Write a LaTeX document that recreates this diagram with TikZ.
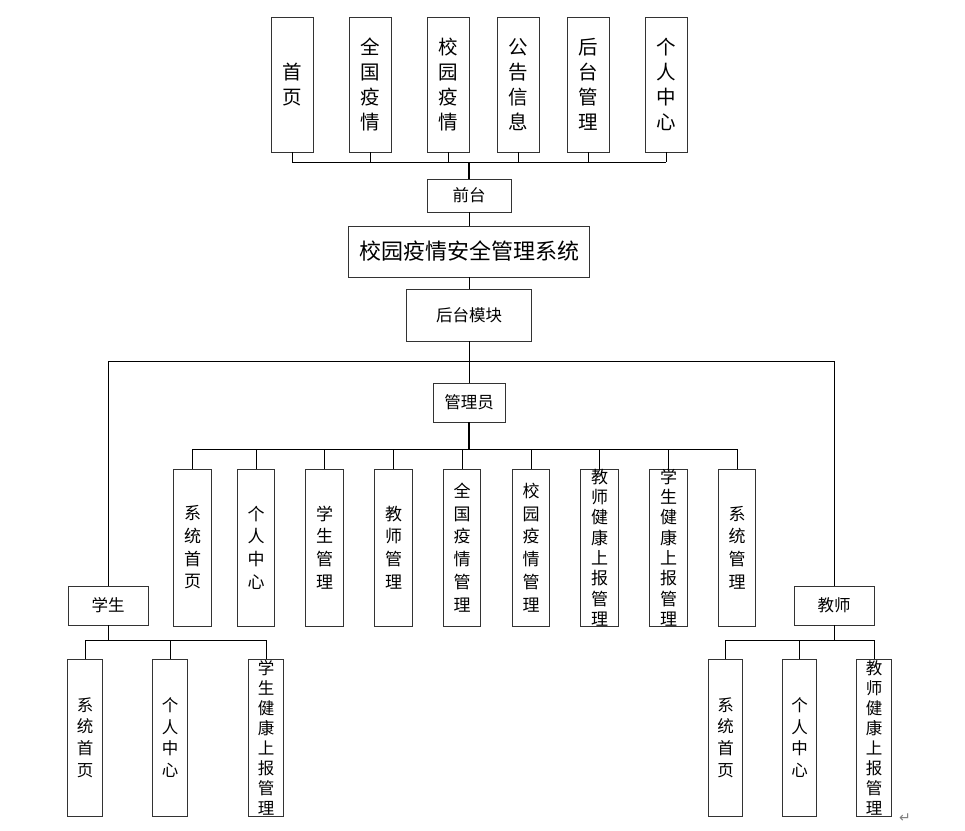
\documentclass[tikz,border=0pt]{standalone}
\usepackage{fontspec}
\setmainfont{Noto Sans CJK SC}
\newfontfamily\symfont{DejaVu Sans}

\begin{document}
\begin{tikzpicture}[x=1pt,y=-1pt,
    box/.style={draw=black!80, line width=0.9pt, inner sep=0pt},
    pagebox/.style={box, minimum width=42pt, minimum height=135pt},
    funcbox/.style={box, minimum width=37.5pt, minimum height=157pt},
    userbox/.style={box, minimum width=34.5pt, minimum height=157pt},
    tagbox/.style={box, font=\fontsize{16.5}{20}\selectfont},
    vtext/.style={align=center, inner sep=0pt},
    link/.style={line width=0.9pt},
    stem/.style={line width=1.9pt}]

  \useasboundingbox (0,0) rectangle (965,830);

  % front pages, one column of characters each
  \foreach \n/\x/\lbl in {t1/292/首\\页, t2/370/全\\国\\疫\\情,
      t3/448/校\\园\\疫\\情, t4/518/公\\告\\信\\息,
      t5/588/后\\台\\管\\理, t6/666/个\\人\\中\\心}{
    \node[pagebox] (\n) at (\x,84.5) {};
    \node[vtext, font=\fontsize{19.5}{25}\selectfont] (\n-txt) at (\n) {\lbl};
  }

  % middle column
  \node[tagbox, minimum width=84pt, minimum height=33pt] (front) at (469,195.5) {前台};
  \node[box, minimum width=241pt, minimum height=51pt,
        font=\fontsize{22}{26}\selectfont] (sys) at (469,251.5) {校园疫情安全管理系统};
  \node[tagbox, minimum width=125pt, minimum height=52pt] (back) at (469,315) {后台模块};
  \node[tagbox, minimum width=72pt, minimum height=39pt] (admin) at (469,402.5) {管理员};
  \node[tagbox, minimum width=80pt, minimum height=39pt] (stu) at (108,605.5) {学生};
  \node[tagbox, minimum width=80pt, minimum height=39pt] (tea) at (834,605.5) {教师};

  % admin functions
  \foreach \n/\x/\s/\lbl in {m1/192.5/22.7/系\\统\\首\\页, m2/256/22.7/个\\人\\中\\心,
      m3/324.5/22.7/学\\生\\管\\理, m4/393.5/22.7/教\\师\\管\\理,
      m5/462/22.7/全\\国\\疫\\情\\管\\理, m6/531/22.7/校\\园\\疫\\情\\管\\理,
      m7/599.5/20.3/教\\师\\健\\康\\上\\报\\管\\理,
      m8/668.5/20.3/学\\生\\健\\康\\上\\报\\管\\理, m9/737/22.7/系\\统\\管\\理}{
    \node[funcbox] (\n) at (\x,547.5) {};
    \node[vtext, font=\fontsize{17}{\s}\selectfont] (\n-txt) at (\n) {\lbl};
  }

  % student and teacher functions
  \foreach \n/\x/\s/\lbl in {s1/85/21.7/系\\统\\首\\页, s2/170/21.7/个\\人\\中\\心,
      s3/266/20/学\\生\\健\\康\\上\\报\\管\\理,
      e1/725.5/21.7/系\\统\\首\\页, e2/799.5/21.7/个\\人\\中\\心,
      e3/874/20/教\\师\\健\\康\\上\\报\\管\\理}{
    \node[userbox] (\n) at (\x,737.5) {};
    \node[vtext, font=\fontsize{16.5}{\s}\selectfont] (\n-txt) at (\n) {\lbl};
  }

  % connectors
  \coordinate (topbus) at (469,162);
  \foreach \i in {1,...,6}
    \draw[link] (t\i.south) -- (t\i.south |- topbus);
  \draw[link] (t1.south |- topbus) -- (t6.south |- topbus);
  \draw[stem] (topbus) -- (front.north);
  \draw[link] (front) -- (sys);
  \draw[link] (sys) -- (back);
  \draw[link] (back) -- (admin);

  \coordinate (userbus) at (469,361);
  \draw[link] (stu.north |- userbus) -- (tea.north |- userbus);
  \draw[link] (stu.north |- userbus) -- (stu.north);
  \draw[link] (tea.north |- userbus) -- (tea.north);

  \coordinate (adminbus) at (469,449);
  \draw[stem] (admin.south) -- (adminbus);
  \draw[link] (m1.north |- adminbus) -- (m9.north |- adminbus);
  \foreach \i in {1,...,9}
    \draw[link] (m\i.north |- adminbus) -- (m\i.north);

  \coordinate (stubus) at (108,640);
  \draw[link] (stu.south) -- (stubus);
  \draw[link] (s1.north |- stubus) -- (s3.north |- stubus);
  \foreach \i in {1,2,3}
    \draw[link] (s\i.north |- stubus) -- (s\i.north);

  \coordinate (teabus) at (834,640);
  \draw[link] (tea.south) -- (teabus);
  \draw[link] (e1.north |- teabus) -- (e3.north |- teabus);
  \foreach \i in {1,2,3}
    \draw[link] (e\i.north |- teabus) -- (e\i.north);

  % paragraph mark
  \node[gray, font=\symfont\fontsize{14}{14}\selectfont, inner sep=0pt] (mark) at (905,818) {↵};
\end{tikzpicture}
\end{document}
